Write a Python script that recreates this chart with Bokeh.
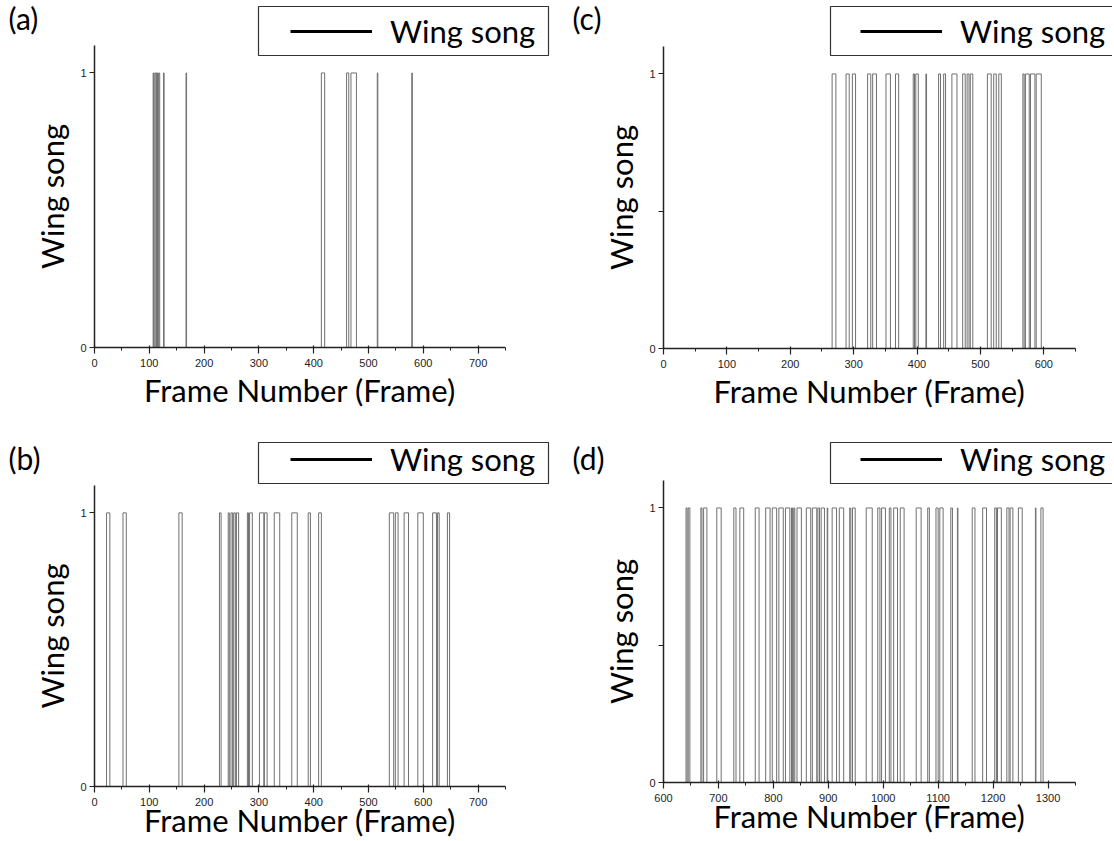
from bokeh.plotting import figure
from bokeh.models import FixedTicker, Legend, LegendItem, BoxAnnotation, Label, Range1d
from bokeh.layouts import column, row
from bokeh.embed import file_html
from bokeh.resources import INLINE

# ---------------- data (pulse on / off frames) ----------------
a_on  = [107, 110, 113, 117, 126, 167, 414, 460, 468, 516, 579]
a_off = [108, 112, 115, 119, 127, 168, 420, 464, 478, 517, 580]

b_on  = [22, 52, 154, 228, 244, 249, 254, 259, 279, 283, 301, 310, 328, 360, 390, 409, 538, 549, 565, 590, 617, 626, 644]
b_off = [28, 58, 160, 231, 246, 252, 257, 263, 281, 288, 309, 315, 338, 370, 394, 414, 546, 554, 573, 600, 624, 629, 648]

c_on  = [266, 288, 298, 322, 330, 351, 366, 394, 398, 414, 434, 442, 455, 472, 479, 484, 511, 521, 529, 567, 571, 579, 588]
c_off = [272, 293, 303, 327, 336, 358, 371, 396, 402, 415, 437, 445, 463, 476, 482, 488, 517, 525, 533, 569, 577, 586, 596]

d_on  = [641, 645, 668, 673, 697, 728, 739, 767, 786, 798, 810, 822, 833, 837, 843, 860, 871, 881, 887, 898, 907, 920,
         939, 944, 969, 990, 997, 1011, 1019, 1031, 1060, 1081, 1096, 1103, 1123, 1135, 1162, 1181, 1203, 1208, 1225,
         1231, 1246, 1277, 1287]
d_off = [643, 648, 670, 679, 705, 732, 746, 774, 794, 806, 818, 830, 835, 839, 851, 868, 879, 884, 893, 899, 915, 928,
         941, 949, 980, 994, 1004, 1014, 1026, 1038, 1069, 1084, 1100, 1109, 1126, 1136, 1167, 1188, 1206, 1215, 1229,
         1236, 1253, 1278, 1291]

ab_ticks = [0, 100, 200, 300, 400, 500, 600, 700]
c_ticks = [0, 100, 200, 300, 400, 500, 600]
d_ticks = [600, 700, 800, 900, 1000, 1100, 1200, 1300]

SERIES = "Wing song"
XLABEL = "Frame Number (Frame)"
YLABEL = "Wing song"

FONT = "Lato"
TICKFONT = "Liberation Sans"
BIG = "31px"


def step_trace(on, off, x0, x1):
    xs, ys = [x0], [0]
    for s, e in zip(on, off):
        xs += [s, s, e, e]
        ys += [0, 1, 1, 0]
    xs.append(x1)
    ys.append(0)
    return xs, ys


def span_range(size, p_lo, p_hi, v_lo, v_hi):
    # data range whose v_lo/v_hi land at pixel p_lo/p_hi of a canvas of given size
    k = (p_hi - p_lo) / (v_hi - v_lo)
    return v_lo - p_lo / k, v_hi + (size - p_hi) / k


def make_panel(letter, on, off, xlim, ticks, yticks, trace_end, width, height,
               xpix, ypix, xlab_standoff, legend_pos, box, letter_pos):
    # xpix: canvas px of xlim ends; ypix: canvas px (from bottom) of y = 0 and y = 1.1
    xr = span_range(width, xpix[0], xpix[1], xlim[0], xlim[1])
    yr = span_range(height, ypix[0], ypix[1], 0, 1.1)
    p = figure(width=width, height=height, output_backend="svg", toolbar_location=None,
               x_range=Range1d(*xr), y_range=Range1d(*yr),
               min_border=0, min_border_left=0, min_border_right=0,
               min_border_top=0, min_border_bottom=0)
    p.outline_line_color = None
    p.xgrid.visible = False
    p.ygrid.visible = False
    p.background_fill_color = "white"
    p.border_fill_color = "white"

    xs, ys = step_trace(on, off, xlim[0], trace_end)
    p.line(xs, ys, line_color="#707070", line_width=1)
    # legend sample: a black line kept outside the visible ranges
    far = xr[0] - 1000
    dummy = p.line([far, far + 1], [0, 0], line_color="black", line_width=3)

    step = ticks[1] - ticks[0]
    minors = [t + step / 2 for t in ticks]
    p.xaxis.ticker = FixedTicker(ticks=ticks, minor_ticks=[m for m in minors if xlim[0] <= m <= xlim[1]])
    p.yaxis.ticker = FixedTicker(ticks=yticks, minor_ticks=[])
    p.yaxis.major_label_overrides = {0.5: ""}
    p.xaxis.fixed_location = 0
    p.yaxis.fixed_location = xlim[0]
    p.xaxis.bounds = xlim
    p.yaxis.bounds = (0, 1.1)

    for ax in (p.xaxis[0], p.yaxis[0]):
        ax.axis_line_color = "#222222"
        ax.axis_line_width = 1.5
        ax.major_tick_line_color = "#222222"
        ax.major_tick_line_width = 1.2
        ax.minor_tick_line_color = "#222222"
        ax.major_label_text_font = TICKFONT
        ax.major_label_text_font_size = "11px"
        ax.major_label_text_color = "#222222"
        ax.axis_label_text_font = FONT
        ax.axis_label_text_font_size = BIG
        ax.axis_label_text_font_style = "normal"
        ax.axis_label_text_color = "black"
    p.xaxis.major_tick_in = 2
    p.xaxis.major_tick_out = 6
    p.xaxis.minor_tick_in = 0
    p.xaxis.minor_tick_out = 3
    p.yaxis.major_tick_in = 0
    p.yaxis.major_tick_out = 5
    p.xaxis.major_label_standoff = 5
    p.yaxis.major_label_standoff = 3
    p.xaxis.axis_label = XLABEL
    p.yaxis.axis_label = YLABEL
    p.xaxis.axis_label_standoff = xlab_standoff
    p.yaxis.axis_label_standoff = 6

    legend = Legend(items=[LegendItem(label=SERIES, renderers=[dummy])],
                    location=legend_pos, margin=0, padding=0, glyph_width=82, glyph_height=30,
                    label_height=30, label_standoff=18, label_text_font=FONT,
                    label_text_font_size=BIG, label_text_color="black",
                    border_line_alpha=0, background_fill_alpha=0)
    p.add_layout(legend)

    l, r, t, b = box
    p.add_layout(BoxAnnotation(left=l, right=r, top=t, bottom=b,
                               left_units="screen", right_units="screen",
                               top_units="screen", bottom_units="screen",
                               fill_alpha=0, line_color="#333333", line_alpha=1.0, line_width=1.2))

    p.add_layout(Label(x=letter_pos[0], y=letter_pos[1], x_units="screen", y_units="screen",
                       text=letter, text_font=FONT, text_font_size="30px",
                       text_baseline="top", text_color="black"))
    return p


# top row: canvas 433 tall; bottom row: 406 tall; widths 561 + 551
pa = make_panel("(a)", a_on, a_off, (0, 750), ab_ticks, [0, 1], 745, 561, 433,
                (94, 505), (86, 388), 1, (290, 383), (258, 548, 427, 378), (8, 434))
pc = make_panel("(c)", c_on, c_off, (0, 650), c_ticks, [0, 0.5, 1], 645, 551, 433,
                (102, 514), (85, 387), 1, (299, 383), (269, 560, 427, 378), (11, 434))
pb = make_panel("(b)", b_on, b_off, (0, 750), ab_ticks, [0, 1], 745, 561, 406,
                (94, 505), (53, 354), -8, (290, 361), (258, 548, 397, 356), (8, 400))
pd = make_panel("(d)", d_on, d_off, (600, 1350), d_ticks, [0, 0.5, 1], 1345, 551, 406,
                (102, 514), (57, 359), -8, (299, 361), (269, 560, 397, 356), (11, 400))

layout = column(row(pa, pc), row(pb, pd))
open("out.html", "w").write(file_html(layout, INLINE))
